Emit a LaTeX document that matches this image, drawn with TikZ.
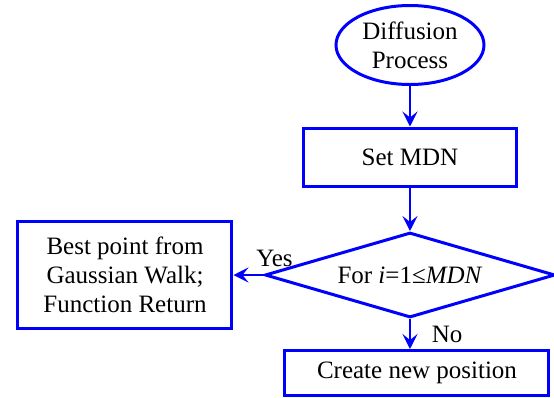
\documentclass[tikz,border=0pt]{standalone}
\usepackage{fontspec}
\setmainfont{Liberation Serif}
\usetikzlibrary{arrows.meta,shapes.geometric}

\begin{document}
\begin{tikzpicture}[->,>={Stealth[length=7.5pt,width=7.5pt,inset=3pt]},x=0.5pt,y=0.5pt,
                    line width=1.2pt,font=\fontsize{12.5}{14.5}\selectfont,
                    every edge/.style={draw=blue}]

  \tikzstyle{terminal}=[ellipse,draw=blue,line width=1.5pt,align=center,inner sep=0pt,
                        minimum width=74pt,minimum height=39.5pt]
  \tikzstyle{block}=[rectangle,draw=blue,line width=1.5pt,align=center]
  \tikzstyle{decision}=[diamond,draw=blue,line width=1.5pt,inner sep=0pt,aspect=3.4,
                        minimum width=145pt,minimum height=42.5pt]

  \useasboundingbox (0,0) rectangle (554,-398);

  \node[terminal] (DP) at (410,-45) {Diffusion\\Process};
  \node[block,minimum width=106.5pt,minimum height=29pt] (MDN)
        [below of=DP,node distance=56pt] {Set MDN};
  \node[decision] (FOR) [below of=MDN,node distance=59pt] {For \textit{i}=1≤\textit{MDN}};

  \node[block,minimum width=107pt,minimum height=53.5pt] (BEST)
        [left of=FOR,node distance=142.5pt] {Best point from\\Gaussian Walk;\\Function Return};
  \node[block,minimum width=132pt,minimum height=22.5pt] (NEW)
        [below of=FOR,node distance=49pt,xshift=3.5pt] {Create new position};

  \path
  (DP)        edge                                       (MDN)
  (MDN)       edge                                       (FOR)
  (FOR.west)  edge node[pos=0,above,xshift=5.5pt] {Yes}  (BEST)
  (FOR.south) edge node[right,xshift=7pt] {No}           (FOR.south |- NEW.north)
  ;
\end{tikzpicture}
\end{document}
